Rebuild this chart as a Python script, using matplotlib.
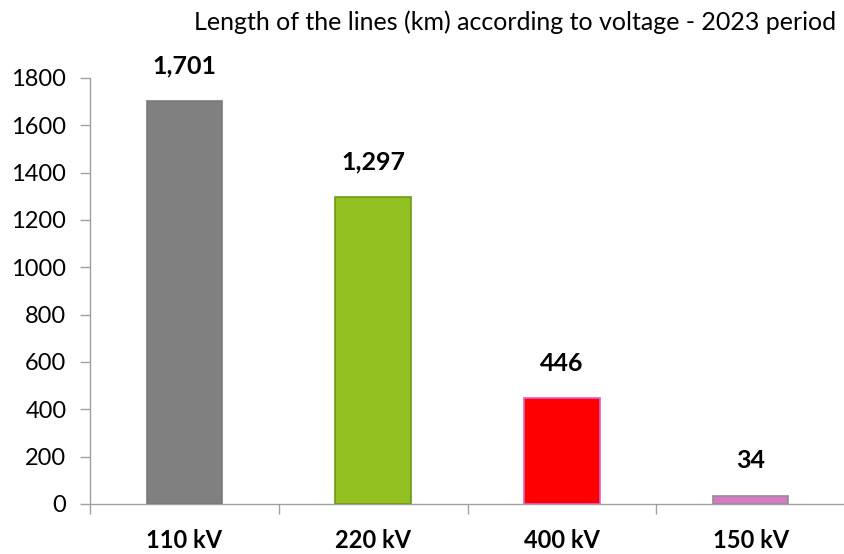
import matplotlib.pyplot as plt
import numpy as np

plt.rcParams['font.family'] = ['Lato', 'DejaVu Sans']

categories = ['110 kV', '220 kV', '400 kV', '150 kV']
lengths_km = [1701, 1297, 446, 34]
bar_colors = ['#808080', '#92C020', '#FF0000', '#DA78C8']
edge_colors = ['#7a7a7a', '#6E9A18', '#E060C8', '#909090']
yticks = list(range(0, 1801, 200))
title = 'Length of the lines (km) according to voltage - 2023 period'

fig = plt.figure(figsize=(8.44, 5.54), dpi=100)
ax = fig.add_axes([90 / 844, 50 / 554, 755 / 844, 426 / 554])

x = np.arange(len(categories))
bars = ax.bar(x, lengths_km, width=0.40, color=bar_colors,
              edgecolor=edge_colors, linewidth=1.2, zorder=3)

for xi, v in zip(x, lengths_km):
    ax.annotate(f'{v:,}', (xi, v), xytext=(0, 17), textcoords='offset points',
                ha='center', va='bottom', fontsize=18, fontweight='bold')

ax.set_xlim(-0.5, len(categories) - 0.5)
ax.set_ylim(0, 1800)
ax.set_yticks(yticks)
ax.set_yticklabels([str(t) for t in yticks], fontsize=17)

ax.set_xticks(x)
ax.set_xticklabels(categories, fontsize=17, fontweight='bold')
ax.set_xticks(np.arange(-0.5, len(categories), 1.0), minor=True)
ax.tick_params(axis='x', which='major', length=0, pad=18)
ax.tick_params(axis='x', which='minor', length=7, color='#a0a0a0', width=1)
ax.tick_params(axis='y', length=7, color='#a0a0a0', width=1, pad=10)

for side in ['top', 'right']:
    ax.spines[side].set_visible(False)
for side in ['left', 'bottom']:
    ax.spines[side].set_color('#a0a0a0')
    ax.spines[side].set_linewidth(1)

fig.text(515 / 844, 1 - 22 / 554, title, ha='center', va='center', fontsize=18)

fig.savefig('out.png', dpi=100)
